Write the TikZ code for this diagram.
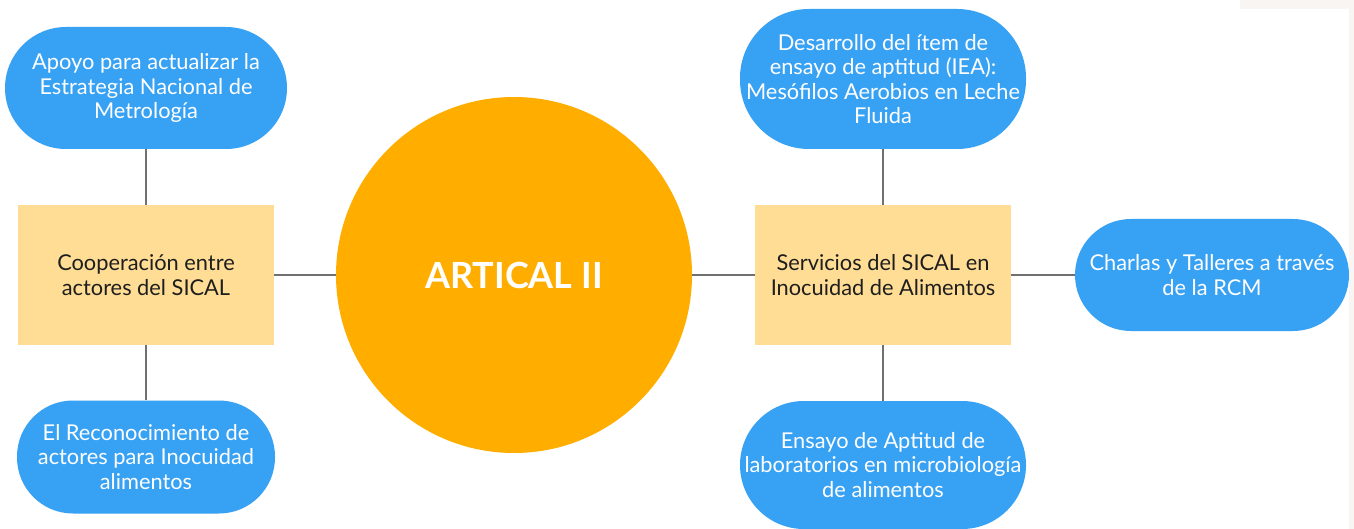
\documentclass[tikz,border=0pt]{standalone}
\usepackage{fontspec}
\setmainfont{Lato}
\definecolor{pillblue}{HTML}{37A1F4}
\definecolor{boxyellow}{HTML}{FFDD95}
\definecolor{circorange}{HTML}{FFAE00}
\definecolor{linegray}{HTML}{707070}
\definecolor{bgbeige}{HTML}{F8F5F2}
\definecolor{boxtext}{HTML}{1E1E1E}
\tikzset{
  pill/.style={draw=none, fill=pillblue, text=white, align=center, inner sep=0pt,
    font=\fontsize{21.8}{24.3}\selectfont},
  topicbox/.style={draw=none, fill=boxyellow, text=boxtext, align=center, inner sep=0pt,
    minimum width=256pt, minimum height=140pt, font=\fontsize{21.8}{24.3}\selectfont},
  conn/.style={draw=linegray, line width=2.6pt}
}
\begin{document}
\begin{tikzpicture}[x=1pt,y=-1pt]
\useasboundingbox (0,0) rectangle (1354,529);
\fill[white] (0,0) rectangle (1354,529);
\fill[bgbeige] (1240,0) rectangle (1354,9);
\fill[bgbeige] (1349,0) rectangle (1354,529);

\node[topicbox] (lbox) at (146,275) {Cooperación entre\\actores del SICAL};
\node[topicbox] (rbox) at (883,275) {Servicios del SICAL en\\Inocuidad de Alimentos};
\node[circle, fill=circorange, minimum size=356pt, inner sep=0pt, text=white,
  font=\fontsize{36}{40}\selectfont\bfseries] (hub) at (514,275) {ARTICAL II};

\node[pill, minimum width=282pt, minimum height=122pt, rounded corners=61pt] (lt) at (146,88)
  {Apoyo para actualizar la\\Estrategia Nacional de\\Metrología};
\node[pill, minimum width=258pt, minimum height=113pt, rounded corners=56pt] (lb) at (146,457)
  {El Reconocimiento de\\actores para Inocuidad\\alimentos};
\node[pill, minimum width=286pt, minimum height=140pt, rounded corners=69pt] (rt) at (883,79)
  {Desarrollo del ítem de\\ensayo de aptitud (IEA):\\Mesófilos Aerobios en Leche\\Fluida};
\node[pill, minimum width=274pt, minimum height=112pt, rounded corners=56pt] (rr) at (1212,275)
  {Charlas y Talleres a través\\de la RCM};
\node[pill, minimum width=286pt, minimum height=128pt, rounded corners=64pt] (rb) at (883,465)
  {Ensayo de Aptitud de\\laboratorios en microbiología\\de alimentos};

\draw[conn] (lt.south) -- (lbox.north);
\draw[conn] (lbox.south) -- (lb.north);
\draw[conn] (lbox.east) -- (hub.west);
\draw[conn] (hub.east) -- (rbox.west);
\draw[conn] (rbox.north) -- (rt.south);
\draw[conn] (rbox.south) -- (rb.north);
\draw[conn] (rbox.east) -- (rr.west);
\end{tikzpicture}
\end{document}
